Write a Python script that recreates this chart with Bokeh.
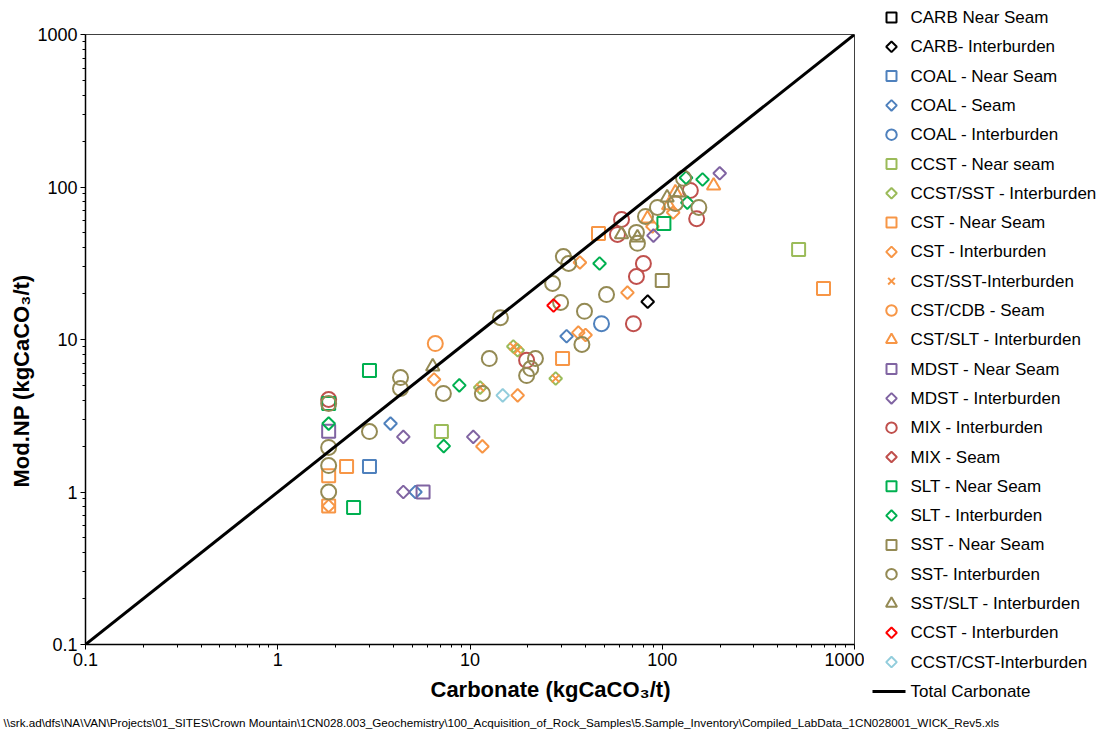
import numpy as np
from bokeh.plotting import figure
from bokeh.layouts import row, column
from bokeh.models import FixedTicker, BasicTickFormatter, Title
from bokeh.core.properties import value
from bokeh.embed import file_html
from bokeh.resources import INLINE

# ---- data: carbonate NP (x) vs modified NP (y), kgCaCO3/t ----
carb_ns_x, carb_ns_y = [], []
carb_ib_x, carb_ib_y = [84], [17.7]

coal_ns_x, coal_ns_y = [3.0], [1.47]
coal_seam_x, coal_seam_y = [3.86, 5.2, 31.8], [2.81, 1.0, 10.5]
coal_ib_x, coal_ib_y = [48.3], [12.7]

ccst_ns_x, ccst_ns_y = [7.1, 512], [2.49, 38.9]
ccst_sst_ib_x, ccst_sst_ib_y = [11.3, 16.8, 17.7, 27.9], [4.84, 9.0, 8.5, 5.55]

cst_ns_x = [1.84, 1.84, 2.28, 30.3, 46.6, 690]
cst_ns_y = [1.28, 0.81, 1.47, 7.5, 49.5, 21.6]
cst_ib_x = [1.84, 6.5, 11.6, 17.7, 36.6, 39.9, 37.3, 65.9, 114, 88.9]
cst_ib_y = [0.81, 5.47, 1.99, 4.3, 11.1, 10.7, 32.0, 20.3, 68, 55.1]
cst_sst_ib_x, cst_sst_ib_y = [11.3, 16.8, 17.7, 27.9], [4.84, 9.0, 8.5, 5.55]
cst_cdb_seam_x, cst_cdb_seam_y = [6.6], [9.4]
cst_slt_ib_x, cst_slt_ib_y = [185, 117, 108, 83.8], [102, 92, 75.7, 62.1]

mdst_ns_x, mdst_ns_y = [1.84, 5.7], [2.5, 1.0]
mdst_ib_x, mdst_ib_y = [4.5, 4.5, 10.4, 90, 199], [2.3, 1.0, 2.3, 48, 123]

mix_ib_x = [1.84, 19.7, 61.4, 58.5, 79.8, 73.4, 70.8, 140, 151]
mix_ib_y = [4.04, 7.3, 61.2, 48.9, 31.5, 25.9, 12.7, 95, 62]
mix_seam_x, mix_seam_y = [], []

slt_ns_x, slt_ns_y = [1.84, 3.0, 2.48, 102], [3.8, 6.26, 0.79, 57.7]
slt_ib_x = [1.84, 8.8, 7.3, 47.2, 133, 162, 135]
slt_ib_y = [2.81, 5.0, 2.0, 31.5, 115, 112, 79]

sst_ns_x, sst_ns_y = [100], [24.4]
sst_ib_x = [1.84, 1.84, 1.84, 1.84, 3.0, 4.35, 4.35, 7.27, 11.6, 12.6,
            14.4, 19.7, 20.7, 21.9, 26.9, 29.6, 30.6, 32.6, 38.2, 39.4,
            51.3, 73.4, 74.3, 81.8, 94.4, 117, 129, 155]
sst_ib_y = [3.8, 1.96, 1.49, 1.0, 2.49, 5.63, 4.77, 4.43, 4.43, 7.5,
            13.9, 5.8, 6.45, 7.5, 23.3, 17.5, 35.0, 31.5, 9.27, 15.3,
            19.7, 50.4, 42.7, 64.1, 73.5, 78, 114, 73.5]
sst_slt_ib_x, sst_slt_ib_y = [6.4, 61.4, 74.3, 106, 123], [6.65, 48.9, 46.6, 85.2, 92]

ccst_ib_x, ccst_ib_y = [27.2], [16.7]
ccst_cst_ib_x, ccst_cst_ib_y = [14.8], [4.3]

total_carb_x = [0.1, 1000]
total_carb_y = [0.1, 1000]

axis_ticks = [0.1, 1, 10, 100, 1000]

source_path = ("\\\\srk.ad\\dfs\\NA\\VAN\\Projects\\01_SITES\\Crown Mountain\\"
               "1CN028.003_Geochemistry\\100_Acquisition_of_Rock_Samples\\"
               "5.Sample_Inventory\\Compiled_LabData_1CN028001_WICK_Rev5.xls")

# ---- styling per series ----
BLUE, LGREEN, ORANGE, PURPLE = "#4F81BD", "#9BBB59", "#F79646", "#8064A2"
MRED, GREEN, OLIVE, RED, LBLUE = "#C0504D", "#00B050", "#948A54", "#FF0000", "#92CDDC"

series = [
    ("CARB Near Seam", carb_ns_x, carb_ns_y, "sq", "black"),
    ("CARB- Interburden", carb_ib_x, carb_ib_y, "di", "black"),
    ("COAL - Near Seam", coal_ns_x, coal_ns_y, "sq", BLUE),
    ("COAL - Seam", coal_seam_x, coal_seam_y, "di", BLUE),
    ("COAL - Interburden", coal_ib_x, coal_ib_y, "ci", BLUE),
    ("CCST - Near seam", ccst_ns_x, ccst_ns_y, "sq", LGREEN),
    ("CCST/SST - Interburden", ccst_sst_ib_x, ccst_sst_ib_y, "di", LGREEN),
    ("CST - Near Seam", cst_ns_x, cst_ns_y, "sq", ORANGE),
    ("CST - Interburden", cst_ib_x, cst_ib_y, "di", ORANGE),
    ("CST/SST-Interburden", cst_sst_ib_x, cst_sst_ib_y, "x", ORANGE),
    ("CST/CDB - Seam", cst_cdb_seam_x, cst_cdb_seam_y, "ci", ORANGE),
    ("CST/SLT - Interburden", cst_slt_ib_x, cst_slt_ib_y, "tr", ORANGE),
    ("MDST - Near Seam", mdst_ns_x, mdst_ns_y, "sq", PURPLE),
    ("MDST - Interburden", mdst_ib_x, mdst_ib_y, "di", PURPLE),
    ("MIX - Interburden", mix_ib_x, mix_ib_y, "ci", MRED),
    ("MIX - Seam", mix_seam_x, mix_seam_y, "di", MRED),
    ("SLT - Near Seam", slt_ns_x, slt_ns_y, "sq", GREEN),
    ("SLT - Interburden", slt_ib_x, slt_ib_y, "di", GREEN),
    ("SST - Near Seam", sst_ns_x, sst_ns_y, "sq", OLIVE),
    ("SST- Interburden", sst_ib_x, sst_ib_y, "ci", OLIVE),
    ("SST/SLT - Interburden", sst_slt_ib_x, sst_slt_ib_y, "tr", OLIVE),
    ("CCST - Interburden", ccst_ib_x, ccst_ib_y, "di", RED),
    ("CCST/CST-Interburden", ccst_cst_ib_x, ccst_cst_ib_y, "di", LBLUE),
]
line_label = "Total Carbonate"

# marker shape, plot size, legend size, rotation
MARKERS = {
    "sq": ("square", 13, 10, 0.0),
    "di": ("square", 9, 7.5, np.pi / 4),
    "ci": ("circle", 15, 10.5, 0.0),
    "tr": ("triangle", 13.5, 11, 0.0),
    "x": ("x", 11, 9.5, 0.0),
}

FONT = "Liberation Sans"
W_MAIN, W_LEG, W_ALL = 864, 238, 1102
H_MAIN, H_FOOT = 710, 25

# ---- main log-log scatter ----
p = figure(
    x_axis_type="log", y_axis_type="log",
    x_range=(0.1, 1000), y_range=(0.1, 1000),
    width=W_MAIN, height=H_MAIN,
    min_border_left=85, min_border_top=34, min_border_right=10, min_border_bottom=66,
    output_backend="svg", toolbar_location=None,
    background_fill_color="white", border_fill_color="white",
)
p.outline_line_color = "#404040"
p.outline_line_width = 1
p.grid.visible = False

minor = [m * 10.0 ** e for e in range(-1, 3) for m in range(2, 10)]
for ax in (p.xaxis[0], p.yaxis[0]):
    ax.ticker = FixedTicker(ticks=axis_ticks, minor_ticks=minor)
    ax.formatter = BasicTickFormatter(use_scientific=False)
    ax.axis_line_color = "black"
    ax.axis_line_width = 1.5
    ax.major_tick_line_color = "black"
    ax.minor_tick_line_color = "black"
    ax.major_tick_out = 5
    ax.major_tick_in = 0
    ax.minor_tick_out = 3
    ax.minor_tick_in = 0
    ax.major_label_standoff = 3
    ax.major_label_text_font = FONT
    ax.major_label_text_font_size = "18px"
    ax.major_label_text_color = "black"

TITLE_STYLE = dict(text_font=FONT, text_font_size="22px", text_font_style="bold",
                   text_color="black", align="left")
p.add_layout(Title(text="Mod.NP (kgCaCO\u2083/t)", offset=157, standoff=2,
                   **TITLE_STYLE), "left")
p.add_layout(Title(text="Carbonate (kgCaCO\u2083/t)", offset=345, standoff=12,
                   **TITLE_STYLE), "below")

for label, xs, ys, mk, color in series:
    marker, size, _, angle = MARKERS[mk]
    if xs:
        p.scatter(xs, ys, marker=marker, size=size, angle=angle,
                  fill_alpha=0, line_color=color, line_width=2)

p.line(total_carb_x, total_carb_y, line_color="black", line_width=3)


def blank_panel(width, height):
    f = figure(
        width=width, height=height, x_range=(0, width), y_range=(height, 0),
        x_axis_location=None, y_axis_location=None,
        min_border=0, output_backend="svg", toolbar_location=None,
        background_fill_color="white", border_fill_color="white",
    )
    f.frame_align = False
    f.outline_line_color = None
    f.grid.visible = False
    return f


# ---- legend panel (pixel coordinates, y downwards) ----
leg = blank_panel(W_LEG, H_MAIN)

ROW0, ROW_STEP = 17.0, 29.3
SWATCH_X, TEXT_X = 27, 46
labels = [s[0] for s in series] + [line_label]
row_y = [ROW0 + ROW_STEP * i for i in range(len(labels))]

for (label, _, _, mk, color), yc in zip(series, row_y):
    marker, _, lsize, angle = MARKERS[mk]
    leg.scatter([SWATCH_X], [yc], marker=marker, size=lsize, angle=angle,
                fill_alpha=0, line_color=color, line_width=2)
leg.line([SWATCH_X - 19, SWATCH_X + 14], [row_y[-1]] * 2, line_color="black", line_width=3)
leg.text(x=[TEXT_X] * len(labels), y=row_y, text=labels,
         text_font=value(FONT), text_font_size="17px", text_color="black",
         text_baseline="middle", text_align="left")

# ---- file path footer ----
foot = blank_panel(W_ALL, H_FOOT)
foot.text(x=[3], y=[12], text=[source_path],
          text_font=value(FONT), text_font_size="11.7px", text_color="black",
          text_baseline="middle", text_align="left")

layout = column(row(p, leg, spacing=0), foot, spacing=0)
open("out.html", "w").write(file_html(layout, INLINE))
